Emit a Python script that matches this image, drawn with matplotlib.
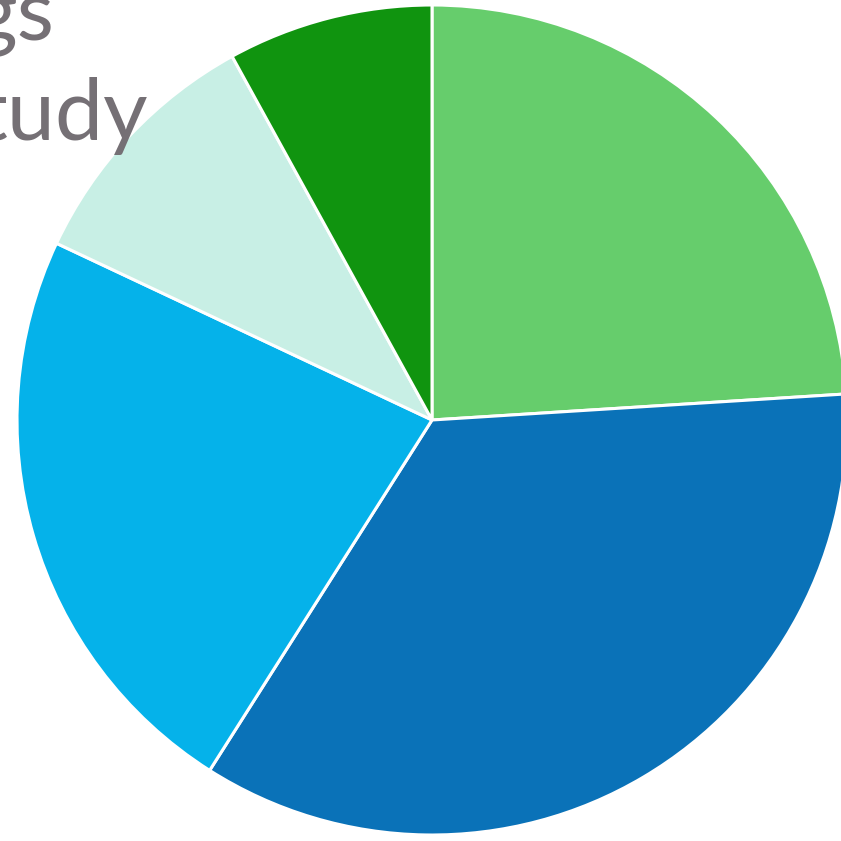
import matplotlib
matplotlib.use("Agg")
import matplotlib.pyplot as plt

values = [24, 35, 23, 10, 8]
colors = ["#66CD6C", "#0A72B8", "#05B2EA", "#C8EFE5", "#10940F"]
labels_text = ["gs", "tudy"]

W = H = 841
fig = plt.figure(figsize=(W / 100, H / 100), dpi=100)
ax = fig.add_axes([0, 0, 1, 1])
R = 415.0
cx, cy = 432.0, 420.0
ax.pie(values, colors=colors, startangle=90, counterclock=False, radius=1,
       wedgeprops=dict(edgecolor="white", linewidth=2.2))
ax.set_xlim(-cx / R, (W - cx) / R)
ax.set_ylim(-(H - cy) / R, cy / R)
ax.set_aspect("equal")
ax.axis("off")

fig.text(54 / W, 1 - 40 / H, labels_text[0], ha="right", va="baseline",
         fontsize=62, color="#757075", family="Lato")
fig.text(148 / W, 1 - 140 / H, labels_text[1], ha="right", va="baseline",
         fontsize=62, color="#757075", family="Lato")

fig.savefig("out.png", dpi=100)
